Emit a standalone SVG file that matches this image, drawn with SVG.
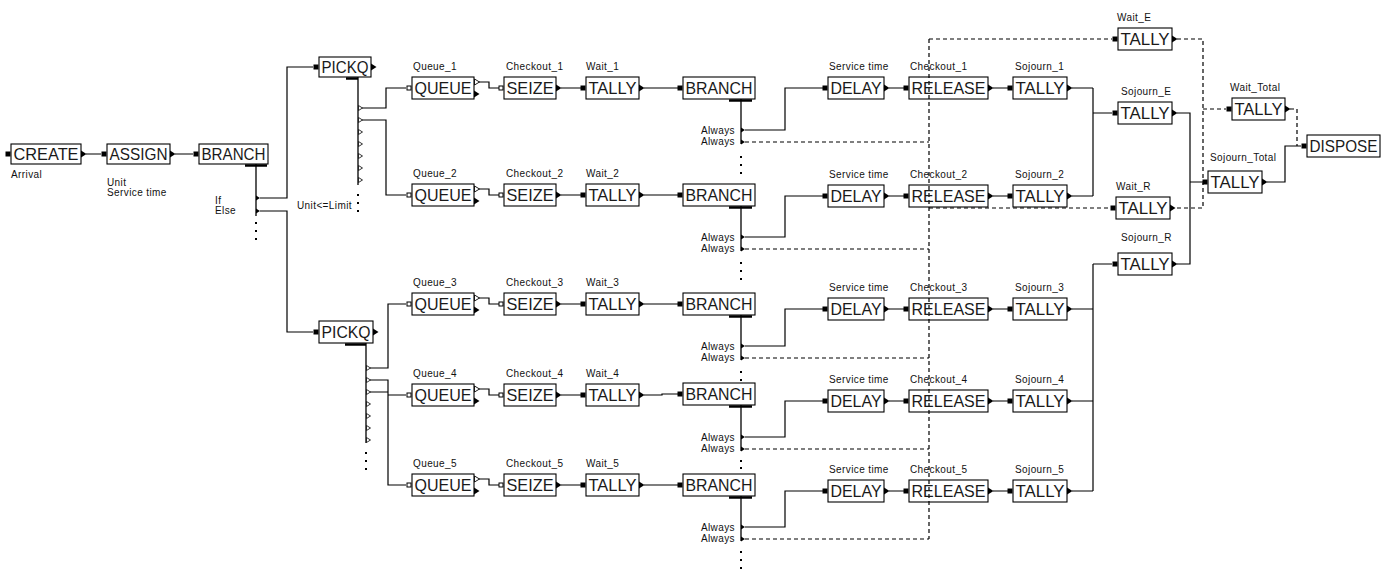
<svg xmlns="http://www.w3.org/2000/svg" width="1394" height="570" viewBox="0 0 1394 570">
<style>
.bx{fill:none;stroke:#000;stroke-width:1.1}
.bt{font-family:"Liberation Sans",Arial,sans-serif;font-size:17px;fill:#1a1a1a}
.lb{font-family:"Liberation Sans",Arial,sans-serif;font-size:10px;letter-spacing:0.4px;fill:#111}
.ra{text-anchor:end}
.c{fill:none;stroke:#000;stroke-width:1.2}
.d{fill:none;stroke:#000;stroke-width:1.2;stroke-dasharray:4 3}
.bar{stroke:#000;stroke-width:2.5}
.v{stroke:#000;stroke-width:1.3}
</style>
<defs>
<rect id="pi" x="-5.5" y="-2.5" width="5" height="5" fill="#000"/>
<rect id="ph" x="-5" y="-2" width="4" height="4" fill="#fff" stroke="#000" stroke-width="1"/>
<path id="po" d="M0,-3.5L5.5,0L0,3.5z" fill="#000"/>
<path id="poh" d="M0.5,-3L5.5,0L0.5,3z" fill="#fff" stroke="#000" stroke-width="0.9"/>
<path id="bo" d="M0,-2.5L4,0L0,2.5z" fill="#000"/>
<path id="boh" d="M0.5,-2.5L4.5,0L0.5,2.5z" fill="#fff" stroke="#000" stroke-width="0.8"/>
<rect id="dot" x="-1" y="-1" width="2" height="2" fill="#000"/>
</defs>
<rect width="1394" height="570" fill="#fff"/>

<g id="connectors">
<path class="c" d="M86,154H101M175,154H193"/>
<path class="c" d="M260,198H287V67H313M260,211H287V332H313"/>
<path class="c" d="M362,108H386V88H406M362,120H386V195H406"/>
<path class="c" d="M370,368H388V304H406M370,380H388V485H406M370,392H388M388,395H406"/>
<path class="c" d="M479,82H489V88H499M561,88H581M644,88H678M745,130H785V88H823M889,88H904M993,88H1008M1072,88H1093"/>
<path class="d" d="M745,142H929"/>
<path class="c" d="M479,189H489V195H499M561,195H581M644,195H678M745,237H785V196H823M889,196H904M993,196H1008M1072,196H1093"/>
<path class="d" d="M745,249H929"/>
<path class="c" d="M479,298H489V304H499M561,304H581M644,304H678M745,346H785V309H823M889,309H904M993,309H1008M1072,309H1093"/>
<path class="d" d="M745,358H929"/>
<path class="c" d="M479,389H489V395H499M561,395H581M644,395H662V394H678M745,437H785V401H823M889,401H904M993,401H1008M1072,401H1093"/>
<path class="d" d="M745,449H929"/>
<path class="c" d="M479,479H489V485H499M561,485H581M644,485H678M745,527H785V491H823M889,491H904M993,491H1008M1072,491H1093"/>
<path class="d" d="M745,539H929"/>
<path class="c" d="M1093,88V196M1093,113H1112M1093,264V491M1093,264H1112"/>
<path class="c" d="M1177,113H1190V264H1177M1190,182H1202M1267,182H1285V146H1301"/>
<path class="d" d="M929,39V539M929,39H1112M929,208H1110M1177,39H1203V208H1175M1203,109H1226M1290,109H1297V146"/>
</g>

<g id="create">
<rect class="bx" x="11" y="144" width="70" height="20"/>
<text class="bt" x="13.5" y="160" textLength="65" lengthAdjust="spacingAndGlyphs">CREATE</text>
<use href="#pi" x="11" y="154"/><use href="#po" x="81" y="154"/>
<text class="lb" x="11" y="178">Arrival</text>
</g>
<g id="assign">
<rect class="bx" x="107" y="144" width="63" height="20"/>
<text class="bt" x="109.5" y="160" textLength="58" lengthAdjust="spacingAndGlyphs">ASSIGN</text>
<use href="#pi" x="107" y="154"/><use href="#po" x="170" y="154"/>
<text class="lb" x="107" y="186">Unit</text>
<text class="lb" x="107" y="196">Service time</text>
</g>
<g id="branch0">
<rect class="bx" x="199" y="144" width="69" height="20"/>
<text class="bt" x="201.5" y="160" textLength="64" lengthAdjust="spacingAndGlyphs">BRANCH</text>
<use href="#pi" x="199" y="154"/>
<line class="bar" x1="245" y1="165.5" x2="267" y2="165.5"/>
<line class="v" x1="256" y1="164" x2="256" y2="216"/>
<use href="#bo" x="256" y="198"/><use href="#bo" x="256" y="211"/>
<text class="lb" x="215" y="204">If</text>
<text class="lb" x="215" y="214">Else</text>
<text class="lb" x="297" y="209">Unit&lt;=Limit</text>
<use href="#dot" x="256" y="223"/><use href="#dot" x="256" y="231"/><use href="#dot" x="256" y="239"/>
</g>
<g id="pickq1">
<rect class="bx" x="319" y="57" width="52" height="20"/>
<text class="bt" x="321.5" y="73" textLength="47" lengthAdjust="spacingAndGlyphs">PICKQ</text>
<use href="#pi" x="319" y="67"/><use href="#po" x="371" y="67"/>
<line class="bar" x1="346" y1="78.5" x2="358" y2="78.5"/>
<line class="v" x1="358" y1="77" x2="358" y2="185"/>
<use href="#boh" x="358" y="108"/><use href="#boh" x="358" y="120"/><use href="#boh" x="358" y="132"/><use href="#boh" x="358" y="144"/><use href="#boh" x="358" y="156"/><use href="#boh" x="358" y="168"/><use href="#boh" x="358" y="180"/>
<use href="#dot" x="358" y="195"/><use href="#dot" x="358" y="203"/><use href="#dot" x="358" y="211"/>
</g>
<g id="pickq2">
<rect class="bx" x="319" y="321" width="54" height="22"/>
<text class="bt" x="321.5" y="338" textLength="49" lengthAdjust="spacingAndGlyphs">PICKQ</text>
<use href="#pi" x="319" y="332"/><use href="#po" x="373" y="332"/>
<line class="bar" x1="345" y1="344.5" x2="366" y2="344.5"/>
<line class="v" x1="366" y1="343" x2="366" y2="443"/>
<use href="#boh" x="366" y="368"/><use href="#boh" x="366" y="380"/><use href="#boh" x="366" y="392"/><use href="#boh" x="366" y="404"/><use href="#boh" x="366" y="416"/><use href="#boh" x="366" y="428"/><use href="#boh" x="366" y="440"/>
<use href="#dot" x="366" y="453"/><use href="#dot" x="366" y="461"/><use href="#dot" x="366" y="469"/>
</g>

<g id="queue1"><rect class="bx" x="412" y="77" width="62" height="22"/><text class="bt" x="414.5" y="94" textLength="57" lengthAdjust="spacingAndGlyphs">QUEUE</text><text class="lb" x="413" y="70">Queue_1</text><use href="#ph" x="412" y="88"/><use href="#poh" x="474" y="82"/><use href="#po" x="474" y="94"/></g>
<g id="seize1"><rect class="bx" x="504" y="77" width="52" height="22"/><text class="bt" x="506.5" y="94" textLength="47" lengthAdjust="spacingAndGlyphs">SEIZE</text><text class="lb" x="506" y="70">Checkout_1</text><use href="#ph" x="504" y="88"/><use href="#po" x="556" y="88"/></g>
<g id="wait1"><rect class="bx" x="586" y="77" width="53" height="22"/><text class="bt" x="588.5" y="94" textLength="48" lengthAdjust="spacingAndGlyphs">TALLY</text><text class="lb" x="586" y="70">Wait_1</text><use href="#pi" x="586" y="88"/><use href="#po" x="639" y="88"/></g>
<g id="branch1"><rect class="bx" x="683" y="77" width="72" height="22"/><text class="bt" x="685.5" y="94" textLength="67" lengthAdjust="spacingAndGlyphs">BRANCH</text><use href="#pi" x="683" y="88"/><line class="bar" x1="729" y1="100.5" x2="752" y2="100.5"/><line class="v" x1="741" y1="99" x2="741" y2="144"/><use href="#bo" x="741" y="130"/><use href="#bo" x="741" y="142"/><text class="lb ra" x="735" y="134">Always</text><text class="lb ra" x="735" y="145">Always</text><use href="#dot" x="741" y="157"/><use href="#dot" x="741" y="165"/><use href="#dot" x="741" y="173"/></g>
<g id="delay1"><rect class="bx" x="828" y="77" width="56" height="22"/><text class="bt" x="830.5" y="94" textLength="51" lengthAdjust="spacingAndGlyphs">DELAY</text><text class="lb" x="829" y="70">Service time</text><use href="#pi" x="828" y="88"/><use href="#po" x="884" y="88"/></g>
<g id="release1"><rect class="bx" x="909" y="77" width="79" height="22"/><text class="bt" x="911.5" y="94" textLength="74" lengthAdjust="spacingAndGlyphs">RELEASE</text><text class="lb" x="910" y="70">Checkout_1</text><use href="#pi" x="909" y="88"/><use href="#po" x="988" y="88"/></g>
<g id="sojourn1"><rect class="bx" x="1013" y="77" width="54" height="22"/><text class="bt" x="1015.5" y="94" textLength="49" lengthAdjust="spacingAndGlyphs">TALLY</text><text class="lb" x="1015" y="70">Sojourn_1</text><use href="#pi" x="1013" y="88"/><use href="#po" x="1067" y="88"/></g>

<g id="queue2"><rect class="bx" x="412" y="184" width="62" height="22"/><text class="bt" x="414.5" y="201" textLength="57" lengthAdjust="spacingAndGlyphs">QUEUE</text><text class="lb" x="413" y="177">Queue_2</text><use href="#ph" x="412" y="195"/><use href="#poh" x="474" y="189"/><use href="#po" x="474" y="201"/></g>
<g id="seize2"><rect class="bx" x="504" y="184" width="52" height="22"/><text class="bt" x="506.5" y="201" textLength="47" lengthAdjust="spacingAndGlyphs">SEIZE</text><text class="lb" x="506" y="177">Checkout_2</text><use href="#ph" x="504" y="195"/><use href="#po" x="556" y="195"/></g>
<g id="wait2"><rect class="bx" x="586" y="184" width="53" height="22"/><text class="bt" x="588.5" y="201" textLength="48" lengthAdjust="spacingAndGlyphs">TALLY</text><text class="lb" x="586" y="177">Wait_2</text><use href="#pi" x="586" y="195"/><use href="#po" x="639" y="195"/></g>
<g id="branch2"><rect class="bx" x="683" y="184" width="72" height="22"/><text class="bt" x="685.5" y="201" textLength="67" lengthAdjust="spacingAndGlyphs">BRANCH</text><use href="#pi" x="683" y="195"/><line class="bar" x1="729" y1="207.5" x2="752" y2="207.5"/><line class="v" x1="741" y1="206" x2="741" y2="251"/><use href="#bo" x="741" y="237"/><use href="#bo" x="741" y="249"/><text class="lb ra" x="735" y="241">Always</text><text class="lb ra" x="735" y="252">Always</text><use href="#dot" x="741" y="263"/><use href="#dot" x="741" y="271"/><use href="#dot" x="741" y="279"/></g>
<g id="delay2"><rect class="bx" x="828" y="185" width="56" height="22"/><text class="bt" x="830.5" y="202" textLength="51" lengthAdjust="spacingAndGlyphs">DELAY</text><text class="lb" x="829" y="178">Service time</text><use href="#pi" x="828" y="196"/><use href="#po" x="884" y="196"/></g>
<g id="release2"><rect class="bx" x="909" y="185" width="79" height="22"/><text class="bt" x="911.5" y="202" textLength="74" lengthAdjust="spacingAndGlyphs">RELEASE</text><text class="lb" x="910" y="178">Checkout_2</text><use href="#pi" x="909" y="196"/><use href="#po" x="988" y="196"/></g>
<g id="sojourn2"><rect class="bx" x="1013" y="185" width="54" height="22"/><text class="bt" x="1015.5" y="202" textLength="49" lengthAdjust="spacingAndGlyphs">TALLY</text><text class="lb" x="1015" y="178">Sojourn_2</text><use href="#pi" x="1013" y="196"/><use href="#po" x="1067" y="196"/></g>

<g id="queue3"><rect class="bx" x="412" y="293" width="62" height="22"/><text class="bt" x="414.5" y="310" textLength="57" lengthAdjust="spacingAndGlyphs">QUEUE</text><text class="lb" x="413" y="286">Queue_3</text><use href="#ph" x="412" y="304"/><use href="#poh" x="474" y="298"/><use href="#po" x="474" y="310"/></g>
<g id="seize3"><rect class="bx" x="504" y="293" width="52" height="22"/><text class="bt" x="506.5" y="310" textLength="47" lengthAdjust="spacingAndGlyphs">SEIZE</text><text class="lb" x="506" y="286">Checkout_3</text><use href="#ph" x="504" y="304"/><use href="#po" x="556" y="304"/></g>
<g id="wait3"><rect class="bx" x="586" y="293" width="53" height="22"/><text class="bt" x="588.5" y="310" textLength="48" lengthAdjust="spacingAndGlyphs">TALLY</text><text class="lb" x="586" y="286">Wait_3</text><use href="#pi" x="586" y="304"/><use href="#po" x="639" y="304"/></g>
<g id="branch3"><rect class="bx" x="683" y="293" width="72" height="22"/><text class="bt" x="685.5" y="310" textLength="67" lengthAdjust="spacingAndGlyphs">BRANCH</text><use href="#pi" x="683" y="304"/><line class="bar" x1="729" y1="316.5" x2="752" y2="316.5"/><line class="v" x1="741" y1="315" x2="741" y2="360"/><use href="#bo" x="741" y="346"/><use href="#bo" x="741" y="358"/><text class="lb ra" x="735" y="350">Always</text><text class="lb ra" x="735" y="361">Always</text><use href="#dot" x="741" y="372"/><use href="#dot" x="741" y="380"/></g>
<g id="delay3"><rect class="bx" x="828" y="298" width="56" height="22"/><text class="bt" x="830.5" y="315" textLength="51" lengthAdjust="spacingAndGlyphs">DELAY</text><text class="lb" x="829" y="291">Service time</text><use href="#pi" x="828" y="309"/><use href="#po" x="884" y="309"/></g>
<g id="release3"><rect class="bx" x="909" y="298" width="79" height="22"/><text class="bt" x="911.5" y="315" textLength="74" lengthAdjust="spacingAndGlyphs">RELEASE</text><text class="lb" x="910" y="291">Checkout_3</text><use href="#pi" x="909" y="309"/><use href="#po" x="988" y="309"/></g>
<g id="sojourn3"><rect class="bx" x="1013" y="298" width="54" height="22"/><text class="bt" x="1015.5" y="315" textLength="49" lengthAdjust="spacingAndGlyphs">TALLY</text><text class="lb" x="1015" y="291">Sojourn_3</text><use href="#pi" x="1013" y="309"/><use href="#po" x="1067" y="309"/></g>

<g id="queue4"><rect class="bx" x="412" y="384" width="62" height="22"/><text class="bt" x="414.5" y="401" textLength="57" lengthAdjust="spacingAndGlyphs">QUEUE</text><text class="lb" x="413" y="377">Queue_4</text><use href="#ph" x="412" y="395"/><use href="#poh" x="474" y="389"/><use href="#po" x="474" y="401"/></g>
<g id="seize4"><rect class="bx" x="504" y="384" width="52" height="22"/><text class="bt" x="506.5" y="401" textLength="47" lengthAdjust="spacingAndGlyphs">SEIZE</text><text class="lb" x="506" y="377">Checkout_4</text><use href="#ph" x="504" y="395"/><use href="#po" x="556" y="395"/></g>
<g id="wait4"><rect class="bx" x="586" y="384" width="53" height="22"/><text class="bt" x="588.5" y="401" textLength="48" lengthAdjust="spacingAndGlyphs">TALLY</text><text class="lb" x="586" y="377">Wait_4</text><use href="#pi" x="586" y="395"/><use href="#po" x="639" y="395"/></g>
<g id="branch4"><rect class="bx" x="683" y="383" width="72" height="22"/><text class="bt" x="685.5" y="400" textLength="67" lengthAdjust="spacingAndGlyphs">BRANCH</text><use href="#pi" x="683" y="394"/><line class="bar" x1="729" y1="406.5" x2="752" y2="406.5"/><line class="v" x1="741" y1="405" x2="741" y2="451"/><use href="#bo" x="741" y="437"/><use href="#bo" x="741" y="449"/><text class="lb ra" x="735" y="441">Always</text><text class="lb ra" x="735" y="452">Always</text><use href="#dot" x="741" y="461"/><use href="#dot" x="741" y="468"/></g>
<g id="delay4"><rect class="bx" x="828" y="390" width="56" height="22"/><text class="bt" x="830.5" y="407" textLength="51" lengthAdjust="spacingAndGlyphs">DELAY</text><text class="lb" x="829" y="383">Service time</text><use href="#pi" x="828" y="401"/><use href="#po" x="884" y="401"/></g>
<g id="release4"><rect class="bx" x="909" y="390" width="79" height="22"/><text class="bt" x="911.5" y="407" textLength="74" lengthAdjust="spacingAndGlyphs">RELEASE</text><text class="lb" x="910" y="383">Checkout_4</text><use href="#pi" x="909" y="401"/><use href="#po" x="988" y="401"/></g>
<g id="sojourn4"><rect class="bx" x="1013" y="390" width="54" height="22"/><text class="bt" x="1015.5" y="407" textLength="49" lengthAdjust="spacingAndGlyphs">TALLY</text><text class="lb" x="1015" y="383">Sojourn_4</text><use href="#pi" x="1013" y="401"/><use href="#po" x="1067" y="401"/></g>

<g id="queue5"><rect class="bx" x="412" y="474" width="62" height="22"/><text class="bt" x="414.5" y="491" textLength="57" lengthAdjust="spacingAndGlyphs">QUEUE</text><text class="lb" x="413" y="467">Queue_5</text><use href="#ph" x="412" y="485"/><use href="#poh" x="474" y="479"/><use href="#po" x="474" y="491"/></g>
<g id="seize5"><rect class="bx" x="504" y="474" width="52" height="22"/><text class="bt" x="506.5" y="491" textLength="47" lengthAdjust="spacingAndGlyphs">SEIZE</text><text class="lb" x="506" y="467">Checkout_5</text><use href="#ph" x="504" y="485"/><use href="#po" x="556" y="485"/></g>
<g id="wait5"><rect class="bx" x="586" y="474" width="53" height="22"/><text class="bt" x="588.5" y="491" textLength="48" lengthAdjust="spacingAndGlyphs">TALLY</text><text class="lb" x="586" y="467">Wait_5</text><use href="#pi" x="586" y="485"/><use href="#po" x="639" y="485"/></g>
<g id="branch5"><rect class="bx" x="683" y="474" width="72" height="22"/><text class="bt" x="685.5" y="491" textLength="67" lengthAdjust="spacingAndGlyphs">BRANCH</text><use href="#pi" x="683" y="485"/><line class="bar" x1="729" y1="497.5" x2="752" y2="497.5"/><line class="v" x1="741" y1="496" x2="741" y2="541"/><use href="#bo" x="741" y="527"/><use href="#bo" x="741" y="539"/><text class="lb ra" x="735" y="531">Always</text><text class="lb ra" x="735" y="542">Always</text><use href="#dot" x="741" y="552"/><use href="#dot" x="741" y="560"/><use href="#dot" x="741" y="568"/></g>
<g id="delay5"><rect class="bx" x="828" y="480" width="56" height="22"/><text class="bt" x="830.5" y="497" textLength="51" lengthAdjust="spacingAndGlyphs">DELAY</text><text class="lb" x="829" y="473">Service time</text><use href="#pi" x="828" y="491"/><use href="#po" x="884" y="491"/></g>
<g id="release5"><rect class="bx" x="909" y="480" width="79" height="22"/><text class="bt" x="911.5" y="497" textLength="74" lengthAdjust="spacingAndGlyphs">RELEASE</text><text class="lb" x="910" y="473">Checkout_5</text><use href="#pi" x="909" y="491"/><use href="#po" x="988" y="491"/></g>
<g id="sojourn5"><rect class="bx" x="1013" y="480" width="54" height="22"/><text class="bt" x="1015.5" y="497" textLength="49" lengthAdjust="spacingAndGlyphs">TALLY</text><text class="lb" x="1015" y="473">Sojourn_5</text><use href="#pi" x="1013" y="491"/><use href="#po" x="1067" y="491"/></g>

<g id="waitE"><rect class="bx" x="1118" y="28" width="54" height="22"/><text class="bt" x="1120.5" y="45" textLength="49" lengthAdjust="spacingAndGlyphs">TALLY</text><text class="lb" x="1117" y="21">Wait_E</text><use href="#pi" x="1118" y="39"/><use href="#po" x="1172" y="39"/></g>
<g id="sojournE"><rect class="bx" x="1118" y="102" width="54" height="22"/><text class="bt" x="1120.5" y="119" textLength="49" lengthAdjust="spacingAndGlyphs">TALLY</text><text class="lb" x="1121" y="95">Sojourn_E</text><use href="#pi" x="1118" y="113"/><use href="#po" x="1172" y="113"/></g>
<g id="waitR"><rect class="bx" x="1116" y="197" width="54" height="22"/><text class="bt" x="1118.5" y="214" textLength="49" lengthAdjust="spacingAndGlyphs">TALLY</text><text class="lb" x="1116" y="190">Wait_R</text><use href="#pi" x="1116" y="208"/><use href="#po" x="1170" y="208"/></g>
<g id="sojournR"><rect class="bx" x="1118" y="253" width="54" height="22"/><text class="bt" x="1120.5" y="270" textLength="49" lengthAdjust="spacingAndGlyphs">TALLY</text><text class="lb" x="1121" y="241">Sojourn_R</text><use href="#pi" x="1118" y="264"/><use href="#po" x="1172" y="264"/></g>
<g id="waitTotal"><rect class="bx" x="1232" y="98" width="53" height="22"/><text class="bt" x="1234.5" y="115" textLength="48" lengthAdjust="spacingAndGlyphs">TALLY</text><text class="lb" x="1230" y="91">Wait_Total</text><use href="#pi" x="1232" y="109"/><use href="#po" x="1285" y="109"/></g>
<g id="sojournTotal"><rect class="bx" x="1208" y="171" width="54" height="22"/><text class="bt" x="1210.5" y="188" textLength="49" lengthAdjust="spacingAndGlyphs">TALLY</text><text class="lb" x="1210" y="161">Sojourn_Total</text><use href="#pi" x="1208" y="182"/><use href="#po" x="1262" y="182"/></g>
<g id="dispose"><rect class="bx" x="1307" y="135" width="73" height="22"/><text class="bt" x="1309.5" y="152" textLength="68" lengthAdjust="spacingAndGlyphs">DISPOSE</text><use href="#pi" x="1307" y="146"/></g>
</svg>
